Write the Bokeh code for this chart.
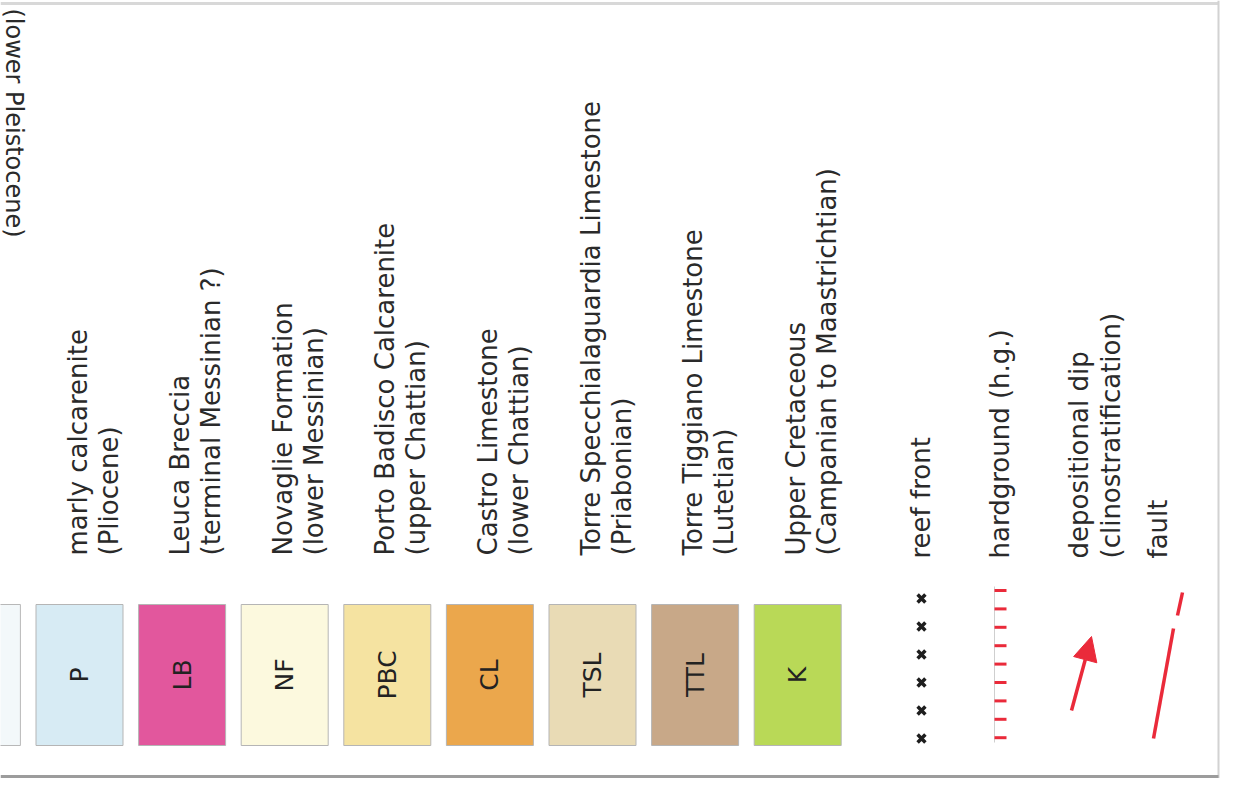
import numpy as np
from bokeh.plotting import figure
from bokeh.models import Range1d, Arrow, NormalHead
from bokeh.core.properties import value
from bokeh.embed import file_html
from bokeh.resources import INLINE

# ---- legend content -------------------------------------------------------
codes = ["P", "LB", "NF", "PBC", "CL", "TSL", "TTL", "K"]
names = ["marly calcarenite", "Leuca Breccia", "Novaglie Formation",
         "Porto Badisco Calcarenite", "Castro Limestone",
         "Torre Specchialaguardia Limestone", "Torre Tiggiano Limestone",
         "Upper Cretaceous"]
ages = ["(Pliocene)", "(terminal Messinian ?)", "(lower Messinian)",
        "(upper Chattian)", "(lower Chattian)", "(Priabonian)", "(Lutetian)",
        "(Campanian to Maastrichtian)"]
colors = ["#d7ebf4", "#e2579d", "#fcf9de", "#f5e3a1", "#eba74c",
          "#e9dbb5", "#c8a888", "#b9d957"]

cut_label = "(lower Pleistocene)"
cut_color = "#f3f8fa"

symbol_names = ["reef front", "hardground (h.g.)", "depositional dip", "fault"]
symbol_notes = ["", "", "(clinostratification)", ""]

# ---- layout ---------------------------------------------------------------
FONT = value("DejaVu Sans")
TXT = "#2a2a2a"
RED = "#ea2a3a"

p = figure(width=1220, height=778, x_range=Range1d(0, 1220), y_range=Range1d(778, 0),
           output_backend="svg", toolbar_location=None, min_border=0,
           x_axis_type=None, y_axis_type=None)
p.grid.visible = False
p.outline_line_color = None
p.background_fill_color = "white"
p.border_fill_color = "white"

pitch = 102.6
idx = np.arange(len(codes))
cx = 79 + pitch * idx
sw = 87
top, bot = 604, 745

# partially cut swatch at the left edge
p.quad(left=[79 - pitch - sw / 2], right=[79 - pitch + sw / 2], top=[top], bottom=[bot],
       fill_color=cut_color, line_color="#b8b8b8", line_width=1)
p.text(x=[13], y=[8], text=[cut_label], angle=-np.pi / 2, text_align="left",
       text_baseline="middle", text_font=FONT, text_font_size="24px", text_color=TXT)

# colour swatches
p.quad(left=cx - sw / 2, right=cx + sw / 2, top=top, bottom=bot,
       fill_color=colors, line_color="#b5b5b5", line_width=1)
p.text(x=cx, y=(top + bot) / 2, text=codes, angle=np.pi / 2, text_align="center",
       text_baseline="middle", text_font=FONT, text_font_size="25px", text_color="#222222")

# unit names
p.text(x=cx - 2, y=555, text=names, angle=np.pi / 2, text_align="left",
       text_baseline="middle", text_font=FONT, text_font_size="26px", text_color=TXT)
p.text(x=cx + 29, y=555, text=ages, angle=np.pi / 2, text_align="left",
       text_baseline="middle", text_font=FONT, text_font_size="26px", text_color=TXT)

# symbol legend
sidx = np.arange(len(symbol_names))
sx = 921 + 79 * sidx
p.text(x=sx - 1, y=558, text=symbol_names, angle=np.pi / 2, text_align="left",
       text_baseline="middle", text_font=FONT, text_font_size="26px", text_color=TXT)
p.text(x=sx + 31, y=558, text=symbol_notes, angle=np.pi / 2, text_align="left",
       text_baseline="middle", text_font=FONT, text_font_size="26px", text_color=TXT)

# reef front: row of crosses
ry = 598 + 28 * np.arange(6)
p.scatter(x=np.full(len(ry), sx[0]), y=ry, marker="x", size=11, line_width=3.5,
          line_color="#1e1e1e")

# hardground: thin line with red ticks
hx = sx[1] - 6
p.segment(x0=[hx], y0=[586], x1=[hx], y1=[742], line_color="#cfcfcf", line_width=1)
hy = 590 + 18.4 * np.arange(9)
p.segment(x0=np.full(len(hy), hx), y0=hy, x1=np.full(len(hy), hx + 12), y1=hy,
          line_color=RED, line_width=3)

# depositional dip: red arrow
p.add_layout(Arrow(x_start=sx[2] - 8, y_start=710, x_end=sx[2] + 12, y_end=636,
                   line_color=RED, line_width=3.5,
                   end=NormalHead(size=24, fill_color=RED, line_color=RED)))

# fault: broken red line
p.segment(x0=[sx[3] - 5, sx[3] + 19], y0=[738, 615], x1=[sx[3] + 15, sx[3] + 24],
          y1=[628, 592], line_color=RED, line_width=3.5)

# sheet frame
p.segment(x0=[0], y0=[3], x1=[1218], y1=[3], line_color="#d8d8d8", line_width=3)
p.segment(x0=[1218], y0=[0], x1=[1218], y1=[778], line_color="#d2d2d2", line_width=2)
p.segment(x0=[0], y0=[776], x1=[1218], y1=[776], line_color="#9c9c9c", line_width=3)

open("out.html", "w").write(file_html(p, INLINE))
